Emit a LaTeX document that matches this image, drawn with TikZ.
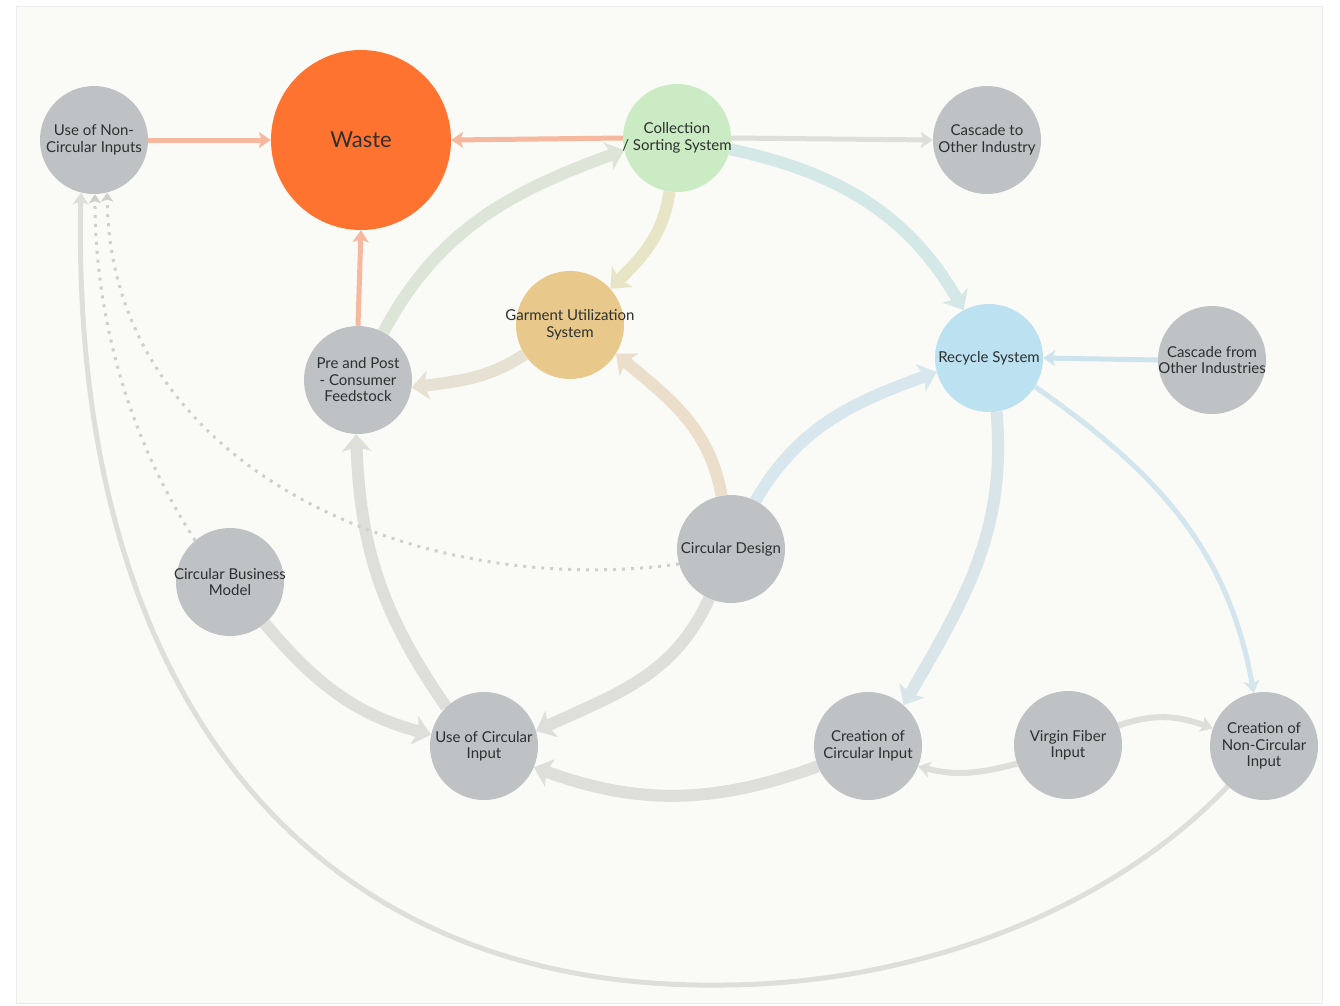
\documentclass[tikz,border=0pt]{standalone}
\usepackage{fontspec}
\setmainfont{Lato}
\usetikzlibrary{arrows.meta}
\definecolor{bgpaper}{HTML}{FAFAF6}
\definecolor{nodegrey}{HTML}{BEC2C4}
\definecolor{txt}{HTML}{2E3030}
\definecolor{wastecol}{HTML}{FF7331}
\definecolor{colgreen}{HTML}{CBEBC4}
\definecolor{gartan}{HTML}{E8C98B}
\definecolor{recblue}{HTML}{BCE1F0}
\definecolor{orline}{HTML}{F6B89E}
\definecolor{greyline}{HTML}{DEDEDB}
\definecolor{cfive}{HTML}{DCE5D8}
\definecolor{csix}{HTML}{E8E5C7}
\definecolor{cseven}{HTML}{D5E8E8}
\definecolor{ceight}{HTML}{E6E1D2}
\definecolor{cnine}{HTML}{EBDFCB}
\definecolor{cten}{HTML}{D8E7EE}
\definecolor{cseventeen}{HTML}{D9E5E9}
\definecolor{ceighteen}{HTML}{D3E6EE}
\definecolor{cnineteen}{HTML}{CDE4EE}
\definecolor{dotcol}{HTML}{CFCFCC}
\pgfdeclarelayer{bgfill}
\pgfdeclarelayer{edges}
\pgfsetlayers{bgfill,edges,main}
\begin{document}
\begin{tikzpicture}[x=1pt,y=1pt,
  nd/.style={circle,minimum size=108pt,inner sep=-30pt,fill=nodegrey,text=txt,
    font=\fontsize{15}{16.5}\selectfont,align=center},
  fatedge/.style={line width=12pt,-{Stealth[length=17pt,width=29pt,inset=4pt]}},
  slimedge/.style={line width=5pt,-{Stealth[length=12pt,width=16pt,inset=3pt]}},
  oredge/.style={slimedge,draw=orline},
  dotedge/.style={draw=dotcol,line width=3pt,dash pattern=on 3pt off 6pt,
    -{Stealth[length=9pt,width=12pt,inset=2pt]}}]
\useasboundingbox (0,0) rectangle (1340,-1005);
\begin{pgfonlayer}{bgfill}
  \fill[white] (0,0) rectangle (1340,-1005);
  \fill[bgpaper,draw=black!8,line width=1pt] (16,-6) rectangle (1322,-1003);
\end{pgfonlayer}
% nodes
\node[nd] (unc) at (94,-140) {Use of Non-\\Circular Inputs};
\node[nd,minimum size=180pt,fill=wastecol,font=\fontsize{22}{26}\selectfont] (waste) at (361,-140) {Waste};
\node[nd,fill=colgreen] (col) at (677,-138) {Collection\\/ Sorting System};
\node[nd] (cto) at (987,-140) {Cascade to\\Other Industry};
\node[nd,fill=gartan] (gar) at (570,-325) {Garment Utilization\\System};
\node[nd] (pp) at (358,-380) {Pre and Post\\- Consumer\\Feedstock};
\node[nd,fill=recblue] (rec) at (989,-358) {Recycle System};
\node[nd] (cfo) at (1212,-360) {Cascade from\\Other Industries};
\node[nd] (cd) at (731,-549) {Circular Design};
\node[nd] (cbm) at (230,-582) {Circular Business\\Model};
\node[nd] (uci) at (484,-746) {Use of Circular\\Input};
\node[nd] (cci) at (868,-746) {Creation of\\Circular Input};
\node[nd] (vf) at (1068,-745) {Virgin Fiber\\Input};
\node[nd] (cnci) at (1264,-746) {Creation of\\Non-Circular\\Input};
% connectors
\begin{pgfonlayer}{edges}
  \draw[oredge] (unc.east) -- (waste.west);
  \draw[oredge] (col.west) -- (waste.east);
  \draw[oredge] (pp.north) -- (waste.south);
  \draw[slimedge,draw=greyline] (col.east) -- (cto.west);
  \draw[slimedge,draw=cnineteen] (cfo.west) -- (rec.east);
  \draw[fatedge,draw=cfive] (pp.62) to[out=62,in=200] (col.193);
  \draw[fatedge,draw=csix] (col.262) to[out=262,in=45] (gar.42);
  \draw[fatedge,draw=cseven] (col.-12) to[out=-12,in=120] (rec.118);
  \draw[fatedge,draw=ceight] (gar.213) to[out=213,in=8] (pp.-8);
  \draw[fatedge,draw=cnine] (cd.100) to[out=100,in=-40] (gar.-32);
  \draw[fatedge,draw=cten] (cd.63) to[out=60,in=200] (rec.195);
  \draw[fatedge,draw=greyline] (cd.246) to[out=246,in=25] (uci.16);
  \draw[fatedge,draw=greyline] (uci.134) to[out=125,in=-88] (pp.-92);
  \draw[fatedge,draw=greyline] (cbm.-50) to[out=-50,in=165] (uci.168);
  \draw[fatedge,draw=greyline] (cci.202) to[out=200,in=-20] (uci.-23);
  \draw[fatedge,draw=cseventeen] (rec.-82) to[out=-85,in=60] (cci.49);
  \draw[slimedge,draw=ceighteen] (rec.-32) to[out=-35,in=100] (cnci.101);
  \draw[slimedge,line width=6pt,draw=greyline] (vf.200) to[out=195,in=-15] (cci.-22);
  \draw[slimedge,line width=6pt,draw=greyline] (vf.21) to[out=20,in=160] (cnci.161);
  \draw[slimedge,draw=greyline] (cnci.228) .. controls (1100,-920) and (900,-985) .. (720,-985)
     .. controls (330,-990) and (70,-720) .. (unc.256);
  \draw[dotedge] (cd.196) .. controls (420,-600) and (110,-470) .. (unc.-76);
  \draw[dotedge] (cbm.130) .. controls (130,-440) and (95,-320) .. (unc.-89);
\end{pgfonlayer}
\end{tikzpicture}
\end{document}
